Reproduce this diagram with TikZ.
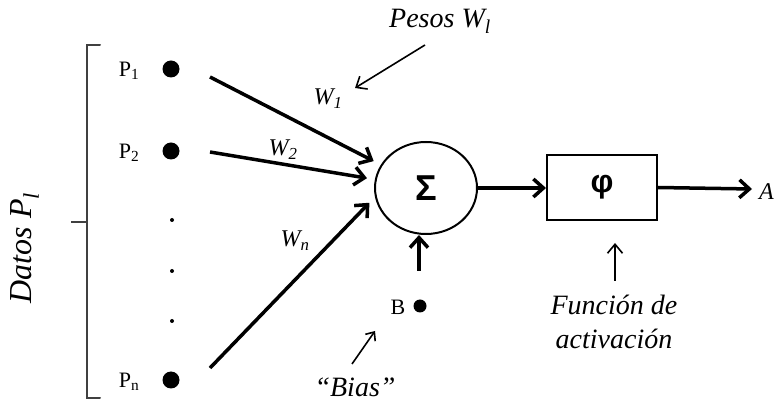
\documentclass[tikz,border=0pt]{standalone}
\usepackage{fontspec}
\setmainfont{Liberation Serif}
\newfontfamily\symfont{Liberation Sans}
\usetikzlibrary{arrows.meta,shapes.geometric}
\begin{document}
\begin{tikzpicture}[x=1pt,y=-1pt,
  bigdot/.style={circle,fill=black,inner sep=0pt,minimum size=17pt},
  smalldot/.style={circle,fill=black,inner sep=0pt,minimum size=4pt},
  bdot/.style={circle,fill=black,inner sep=0pt,minimum size=13pt},
  bigarrow/.style={line width=3.5pt,-{Straight Barb[length=10pt,width=18pt]}},
  thinarrow/.style={line width=1.6pt,-{Straight Barb[length=9pt,width=15pt]}},
  plabel/.style={inner sep=0pt,font=\fontsize{22}{26}\selectfont},
  itlabel/.style={inner sep=0pt,font=\fontsize{28}{34}\selectfont\itshape},
  wlabel/.style={inner sep=0pt,font=\fontsize{24}{28}\selectfont\itshape},
  sumc/.style={ellipse,draw,line width=2pt,minimum width=102pt,minimum height=92pt,inner sep=0pt,font=\symfont\bfseries\fontsize{36}{40}\selectfont},
  fbox/.style={rectangle,draw,line width=2pt,minimum width=110pt,minimum height=65pt,inner sep=0pt,font=\symfont\bfseries\fontsize{32}{36}\selectfont}]
\useasboundingbox (0,0) rectangle (780,403);
% bracket
\draw[line width=2pt,black!75,line cap=round] (100,45) -- (87,45) -- (87,398) -- (100,398);
\draw[line width=2pt,black!75] (71,222) -- (87,222);
\node[rotate=90,inner sep=0pt,font=\fontsize{32}{36}\selectfont\itshape] (datos) at (25,248) {Datos P\textsubscript{\textit{l}}};
% inputs
\node[bigdot] (p1) at (171,69) {};
\node[bigdot] (p2) at (171,151) {};
\node[smalldot] (d1) at (172,220) {};
\node[smalldot] (d2) at (172,271) {};
\node[smalldot] (d3) at (172,321) {};
\node[bigdot] (pn) at (171,380) {};
\node[plabel] (lp1) at (129,71) {P\textsubscript{1}};
\node[plabel] (lp2) at (129,153) {P\textsubscript{2}};
\node[plabel] (lpn) at (129,382) {P\textsubscript{n}};
% sum and activation
\node[sumc] (sum) at (426,188) {Σ};
\node[fbox] (phi) at (602,187.5) {φ};
\coordinate (out) at (752,189);
\node[inner sep=0pt,anchor=west,font=\fontsize{24}{28}\selectfont\itshape] (A) at (759,192) {A};
% input arrows
\coordinate (a1) at (210,77);
\coordinate (a2) at (210,152);
\coordinate (an) at (210,368);
\draw[bigarrow,shorten >=8pt] (a1) -- (sum);
\draw[bigarrow,shorten >=8pt] (a2) -- (sum);
\draw[bigarrow,shorten >=8pt] (an) -- (sum.190);
\draw[bigarrow] (sum.east) -- (sum.east -| phi.west);
\draw[bigarrow] (phi.east) -- (out);
% weights
\node[wlabel] (w1) at (328,99) {W\textsubscript{1}};
\node[wlabel] (w2) at (283,150) {W\textsubscript{2}};
\node[wlabel] (wn) at (295,241) {W\textsubscript{n}};
\node[itlabel,anchor=base] (pesos) at (440,28) {Pesos W\textsubscript{\textit{l}}};
\coordinate (pw) at (425,45);
\coordinate (pwt) at (355,88);
\draw[thinarrow] (pw) -- (pwt);
% bias
\node[bdot] (b) at (420,306) {};
\node[plabel] (bl) at (398,307) {B};
\coordinate (bs) at (419,271);
\draw[bigarrow] (bs) -- (bs |- sum.south);
\node[itlabel,anchor=base] (bias) at (355,397) {``Bias''};
\coordinate (bia) at (352,364);
\coordinate (biat) at (375,331);
\draw[thinarrow,-{Straight Barb[length=7pt,width=12pt]}] (bia) -- (biat);
% activation function label
\node[itlabel,align=center,anchor=base] (fun) at (614,349) {Función de\\activación};
\coordinate (fa) at (615,281);
\coordinate (fat) at (615,243);
\draw[thinarrow] (fa) -- (fat);
\end{tikzpicture}
\end{document}
